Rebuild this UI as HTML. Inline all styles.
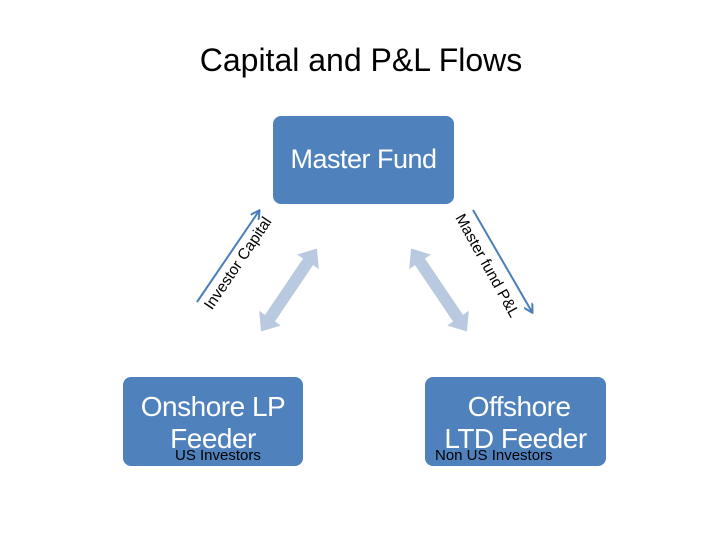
<!DOCTYPE html>
<html><head><style>
body{margin:0;width:728px;height:546px;background:#fff;position:relative;overflow:hidden;font-family:"Liberation Sans",sans-serif}
.t{position:absolute;white-space:nowrap}
.box{position:absolute;background:#4f81bd;border-radius:8px;color:#fff;text-align:center}
</style></head><body>
<div class="t" style="left:0;width:722px;text-align:center;top:42px;font-size:32px;color:#000">Capital and P&amp;L Flows</div>
<div class="box" style="left:273px;top:116px;width:181px;height:88px"><div style="margin-top:28px;font-size:27px;letter-spacing:-0.5px">Master Fund</div></div>
<div class="box" style="left:123px;top:377px;width:180px;height:89px"><div style="margin-top:14px;font-size:28px;line-height:32px;letter-spacing:-0.5px">Onshore LP<br>Feeder</div>
<div class="t" style="left:52px;top:70px;font-size:15px;color:#000">US Investors</div></div>
<div class="box" style="left:425px;top:377px;width:181px;height:89px"><div style="margin-top:14px;font-size:28px;line-height:32px;letter-spacing:-0.5px">&nbsp;Offshore<br>LTD Feeder</div>
<div class="t" style="left:10px;top:70px;font-size:15px;color:#000">Non US Investors</div></div>
<svg width="728" height="546" style="position:absolute;left:0;top:0">
<defs><marker id="a" markerWidth="10" markerHeight="10" refX="8" refY="5" orient="auto" markerUnits="userSpaceOnUse"><path d="M0,0 L9,5 L0,10" fill="none" stroke="#4a7ebb" stroke-width="2"/></marker></defs>
<line x1="197" y1="302" x2="259" y2="211" stroke="#4a7ebb" stroke-width="2" marker-end="url(#a)"/>
<line x1="473" y1="210" x2="532" y2="312" stroke="#4a7ebb" stroke-width="2" marker-end="url(#a)"/>
<g fill="#b9c9e0">
<g transform="translate(289,290) rotate(-56)"><polygon points="-50,0 -34,-13 -34,-6 34,-6 34,-13 50,0 34,13 34,6 -34,6 -34,13"/></g>
<g transform="translate(439,290) rotate(56)"><polygon points="-50,0 -34,-13 -34,-6 34,-6 34,-13 50,0 34,13 34,6 -34,6 -34,13"/></g>
</g>
<text x="242" y="266" font-size="15.5" text-anchor="middle" transform="rotate(-56 242 266)" font-family="Liberation Sans">Investor Capital</text>
<text x="483" y="268" font-size="15.5" text-anchor="middle" transform="rotate(61 483 268)" font-family="Liberation Sans">Master fund P&amp;L</text>
</svg>
</body></html>
